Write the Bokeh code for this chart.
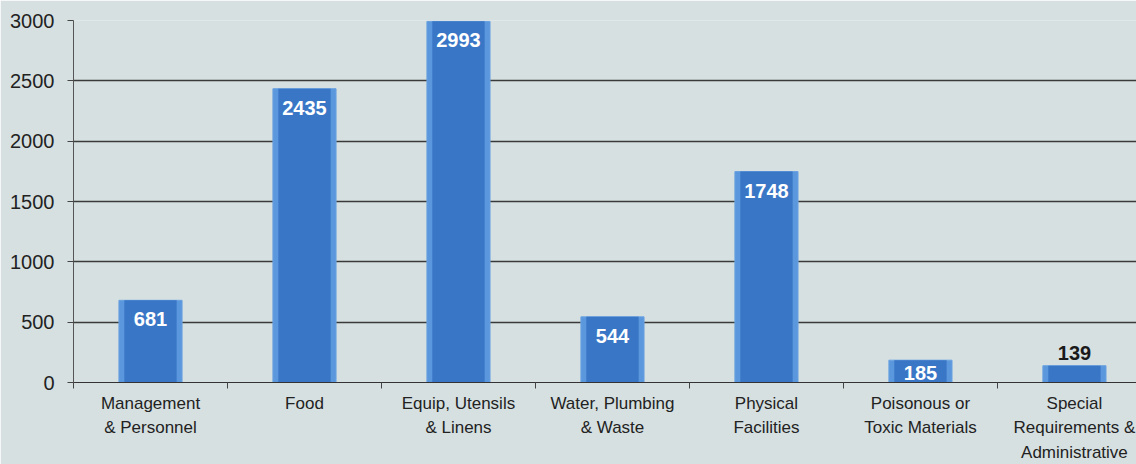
from bokeh.plotting import figure
from bokeh.models import FixedTicker, Range1d, ColumnDataSource
from bokeh.core.properties import value
from bokeh.embed import file_html
from bokeh.resources import INLINE

categories = ["Management\n& Personnel", "Food", "Equip, Utensils\n& Linens",
              "Water, Plumbing\n& Waste", "Physical\nFacilities",
              "Poisonous or\nToxic Materials", "Special\nRequirements &\nAdministrative"]
values = [681, 2435, 2993, 544, 1748, 185, 139]
y_ticks = [0, 500, 1000, 1500, 2000, 2500, 3000]

centers = [i + 0.5 for i in range(len(categories))]
bounds = list(range(len(categories) + 1))

BG = "#d6e0e1"
p = figure(width=1136, height=464, x_range=Range1d(0, 6.903), y_range=Range1d(0, 3000),
           output_backend="svg", toolbar_location=None,
           min_border_left=73, min_border_right=0, min_border_top=20, min_border_bottom=82,
           background_fill_color=BG, border_fill_color=BG, outline_line_color=None)

src = ColumnDataSource(dict(x=centers, v=values))

p.vbar(x="x", top="v", width=0.41, bottom=0, source=src,
       fill_color="#5b97dc", line_color="#6aa2e0", line_width=1)
p.vbar(x="x", top="v", width=0.34, bottom=0, source=src,
       fill_color="#3a76c6", line_color=None)

font = value("Liberation Sans")
big = [i for i, v in enumerate(values) if v >= 500]
mid = [i for i, v in enumerate(values) if 150 <= v < 500]
low = [i for i, v in enumerate(values) if v < 150]

def sub(idx):
    return ColumnDataSource(dict(x=[centers[i] for i in idx], v=[values[i] for i in idx],
                                 half=[values[i] / 2 for i in idx],
                                 lbl=[str(values[i]) for i in idx]))

p.text(x="x", y="v", text="lbl", source=sub(big), text_font=font, text_font_size="20px",
       text_font_style="bold", text_color="white", text_align="center",
       text_baseline="top", y_offset=12)
p.text(x="x", y="half", text="lbl", source=sub(mid), text_font=font, text_font_size="20px",
       text_font_style="bold", text_color="white", text_align="center",
       text_baseline="middle", y_offset=2)
p.text(x="x", y="v", text="lbl", source=sub(low), text_font=font, text_font_size="20px",
       text_font_style="bold", text_color="#1a1a1a", text_align="center",
       text_baseline="bottom", y_offset=-6)

p.xgrid.visible = False
p.ygrid.grid_line_color = "#3a3a3a"
p.ygrid.grid_line_width = 1.5
p.ygrid.ticker = FixedTicker(ticks=y_ticks)

ya = p.yaxis[0]
ya.ticker = FixedTicker(ticks=y_ticks)
ya.axis_line_color = "#555555"
ya.major_tick_line_color = "#444444"
ya.major_tick_out = 6
ya.major_tick_in = 0
ya.minor_tick_line_color = None
ya.major_label_text_font = "Liberation Sans"
ya.major_label_text_font_size = "20px"
ya.major_label_text_color = "#222222"
ya.major_label_standoff = 13

xa = p.xaxis[0]
xa.ticker = FixedTicker(ticks=centers, minor_ticks=bounds)
xa.major_label_overrides = {c: lab for c, lab in zip(centers, categories)}
xa.axis_line_color = "#333333"
xa.major_tick_line_color = None
xa.major_tick_out = 6
xa.minor_tick_line_color = "#444444"
xa.minor_tick_out = 6
xa.minor_tick_in = 0
xa.major_label_text_font = "Liberation Sans"
xa.major_label_text_font_size = "17px"
xa.major_label_text_color = "#222222"
xa.major_label_standoff = 5
xa.major_label_text_line_height = 1.3

open("out.html", "w").write(file_html(p, INLINE))
